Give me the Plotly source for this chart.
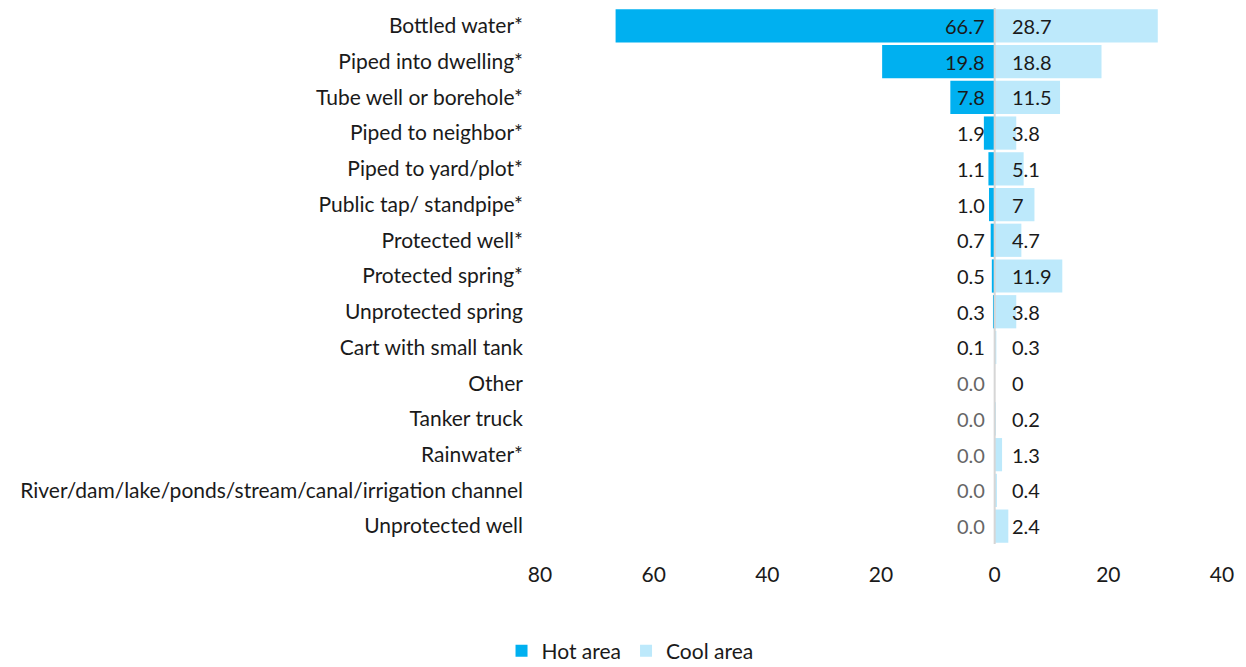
import plotly.graph_objects as go

categories = [
    "Bottled water*", "Piped into dwelling*", "Tube well or borehole*",
    "Piped to neighbor*", "Piped to yard/plot*", "Public tap/ standpipe*",
    "Protected well*", "Protected spring*", "Unprotected spring",
    "Cart with small tank", "Other", "Tanker truck", "Rainwater*",
    "River/dam/lake/ponds/stream/canal/irrigation channel", "Unprotected well",
]
hot_area = [66.7, 19.8, 7.8, 1.9, 1.1, 1.0, 0.7, 0.5, 0.3, 0.1, 0.0, 0.0, 0.0, 0.0, 0.0]
cool_area = [28.7, 18.8, 11.5, 3.8, 5.1, 7, 4.7, 11.9, 3.8, 0.3, 0, 0.2, 1.3, 0.4, 2.4]
hot_labels = ["66.7", "19.8", "7.8", "1.9", "1.1", "1.0", "0.7", "0.5", "0.3", "0.1",
              "0.0", "0.0", "0.0", "0.0", "0.0"]
cool_labels = ["28.7", "18.8", "11.5", "3.8", "5.1", "7", "4.7", "11.9", "3.8", "0.3",
               "0", "0.2", "1.3", "0.4", "2.4"]
tick_vals = [-80, -60, -40, -20, 0, 20, 40]
tick_text = ["80", "60", "40", "20", "0", "20", "40"]

HOT = "#00B0F0"
COOL = "#BDE9FB"
FONT = "Lato"

fig = go.Figure()
fig.add_trace(go.Bar(
    y=categories, x=[-v for v in hot_area], orientation="h",
    name="Hot area", marker=dict(color=HOT, line=dict(width=0)),
    hoverinfo="skip",
))
fig.add_trace(go.Bar(
    y=categories, x=cool_area, orientation="h",
    name="Cool area", marker=dict(color=COOL, line=dict(width=0)),
    hoverinfo="skip",
))

annotations = []
for cat, hl in zip(categories, hot_labels):
    annotations.append(dict(
        x=0, y=cat, xref="x", yref="y", text=hl, showarrow=False,
        xanchor="right", xshift=-8,
        font=dict(family=FONT, size=20, color="#666666" if hl == "0.0" else "#1a1a1a"),
    ))
for cat, cl in zip(categories, cool_labels):
    annotations.append(dict(
        x=0, y=cat, xref="x", yref="y", text=cl, showarrow=False,
        xanchor="left", xshift=15,
        font=dict(family=FONT, size=20, color="#1a1a1a"),
    ))

fig.update_layout(
    width=1238, height=659,
    margin=dict(l=532, r=24, t=0, b=123, autoexpand=False),
    paper_bgcolor="white", plot_bgcolor="white",
    barmode="relative", bargap=0.07,
    font=dict(family=FONT, size=21, color="#1a1a1a"),
    showlegend=True,
    legend=dict(orientation="h", x=0.132, xanchor="center", y=-0.2, yanchor="middle",
                font=dict(family=FONT, size=21), itemwidth=30, traceorder="normal"),
    annotations=annotations,
    shapes=[dict(type="line", xref="x", yref="paper", x0=0, x1=0, y0=0, y1=1,
                 line=dict(color="#d6d6d6", width=2), layer="above")],
)
fig.update_xaxes(
    range=[-80, 40], tickvals=tick_vals, ticktext=tick_text,
    showgrid=False, zeroline=False, showline=False, ticks="",
    tickfont=dict(family=FONT, size=21, color="#1a1a1a"),
    ticklabelstandoff=16,
)
fig.update_yaxes(
    autorange="reversed", showgrid=False, zeroline=False, showline=False,
    ticks="", tickfont=dict(family=FONT, size=21, color="#1a1a1a"),
    ticklabelstandoff=16,
)

fig.write_html("out.html")
